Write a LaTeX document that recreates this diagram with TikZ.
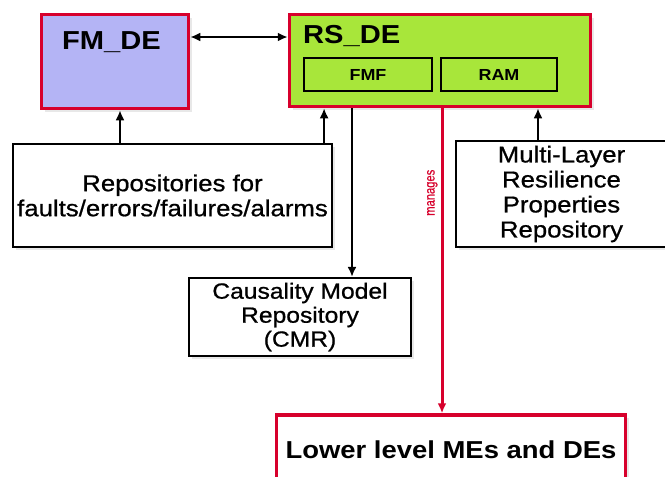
\documentclass[tikz,border=0pt]{standalone}
\usepackage{fontspec}
\setmainfont{Liberation Sans}[FakeStretch=1.12]
\newfontfamily\boxfont{Liberation Sans}[FakeStretch=1.12,FakeBold=0.8]
\newfontfamily\narrowfont{Liberation Sans}[FakeStretch=0.8,FakeBold=0.6]
\usepackage{tikz}
\usetikzlibrary{arrows.meta,shadows,calc}
\definecolor{dered}{HTML}{D7002C}
\definecolor{fmblue}{HTML}{B4B4F5}
\definecolor{rsgreen}{HTML}{A8E63A}

\begin{document}
\begin{tikzpicture}[x=1pt,y=-1pt,
  redbox/.style={draw=dered,line width=3.5pt,
    drop shadow={shadow xshift=3pt,shadow yshift=-3pt,fill=black!15,opacity=0.6}},
  repbox/.style={draw=black,line width=2.2pt,fill=white,align=center,inner sep=0pt,
    font=\boxfont\fontsize{23}{25}\selectfont,
    drop shadow={shadow xshift=3pt,shadow yshift=-3pt,fill=black!15,opacity=0.6}},
  subbox/.style={draw=black,line width=2pt,font=\bfseries\fontsize{16}{18}\selectfont},
  title/.style={anchor=base west,font=\bfseries\fontsize{26}{28}\selectfont,inner sep=0pt},
  arr/.style={line width=2pt,-{Latex[length=10pt,width=9pt]}}]
\clip (0,0) rectangle (665,477);
\fill[white] (0,0) rectangle (665,477);
% upper level
\node[redbox,fill=fmblue,minimum width=147pt,minimum height=94pt] (fmde) at (115,61.5) {};
\node[title] (fmdetitle) at (62,49) {FM\_DE};
\node[redbox,fill=rsgreen,minimum width=301pt,minimum height=92pt] (rsde) at (440,60.5) {};
\node[title] (rsdetitle) at (303,43) {RS\_DE};
\node[subbox,minimum width=128pt,minimum height=33pt] (fmf) at (368,74.5) {FMF};
\node[subbox,minimum width=116pt,minimum height=33pt] (ram) at (499,74.5) {RAM};
% repositories
\node[repbox,minimum width=319pt,minimum height=103pt] (repo) at (172.5,195.5)
  {Repositories for\\faults/errors/failures/alarms};
\node[repbox,minimum width=211pt,minimum height=106pt] (mlr) at (561.5,194)
  {Multi-Layer\\Resilience\\Properties\\Repository};
\node[repbox,minimum width=222pt,minimum height=78pt,font=\boxfont\fontsize{22}{24}\selectfont] (cmr) at (300,317)
  {Causality Model\\Repository\\(CMR)};
% lower level
\node[redbox,fill=white,minimum width=349pt,minimum height=70pt,
  font=\bfseries\fontsize{24.5}{26}\selectfont] (lower) at (451,450) {Lower level MEs and DEs};

\coordinate (link) at (0,37);
\draw[arr,{Latex[length=10pt,width=9pt]}-{Latex[length=10pt,width=9pt]}] (fmde.east |- link) -- (rsde.west |- link);
\coordinate (toFM) at ([xshift=5pt]fmde.south);
\draw[arr] (toFM |- repo.north) -- (toFM);
\coordinate (toRS) at ([xshift=-9pt]repo.north east);
\draw[arr] (toRS) -- (toRS |- rsde.south);
\coordinate (toCMR) at ([xshift=52pt]cmr.north);
\draw[arr] (toCMR |- rsde.south) -- (toCMR);
\coordinate (toRAM) at ([xshift=-23.5pt]mlr.north);
\draw[arr] (toRAM) -- (toRAM |- rsde.south);
\coordinate (toME) at ([xshift=-9pt]lower.north);
\draw[arr,draw=dered,fill=dered,line width=3pt] (toME |- rsde.south) --
  node[pos=0.277,anchor=south,rotate=90,inner sep=3pt,text=dered,font=\narrowfont\fontsize{14}{14}\selectfont] (mng) {manages} (toME);
\end{tikzpicture}
\end{document}
